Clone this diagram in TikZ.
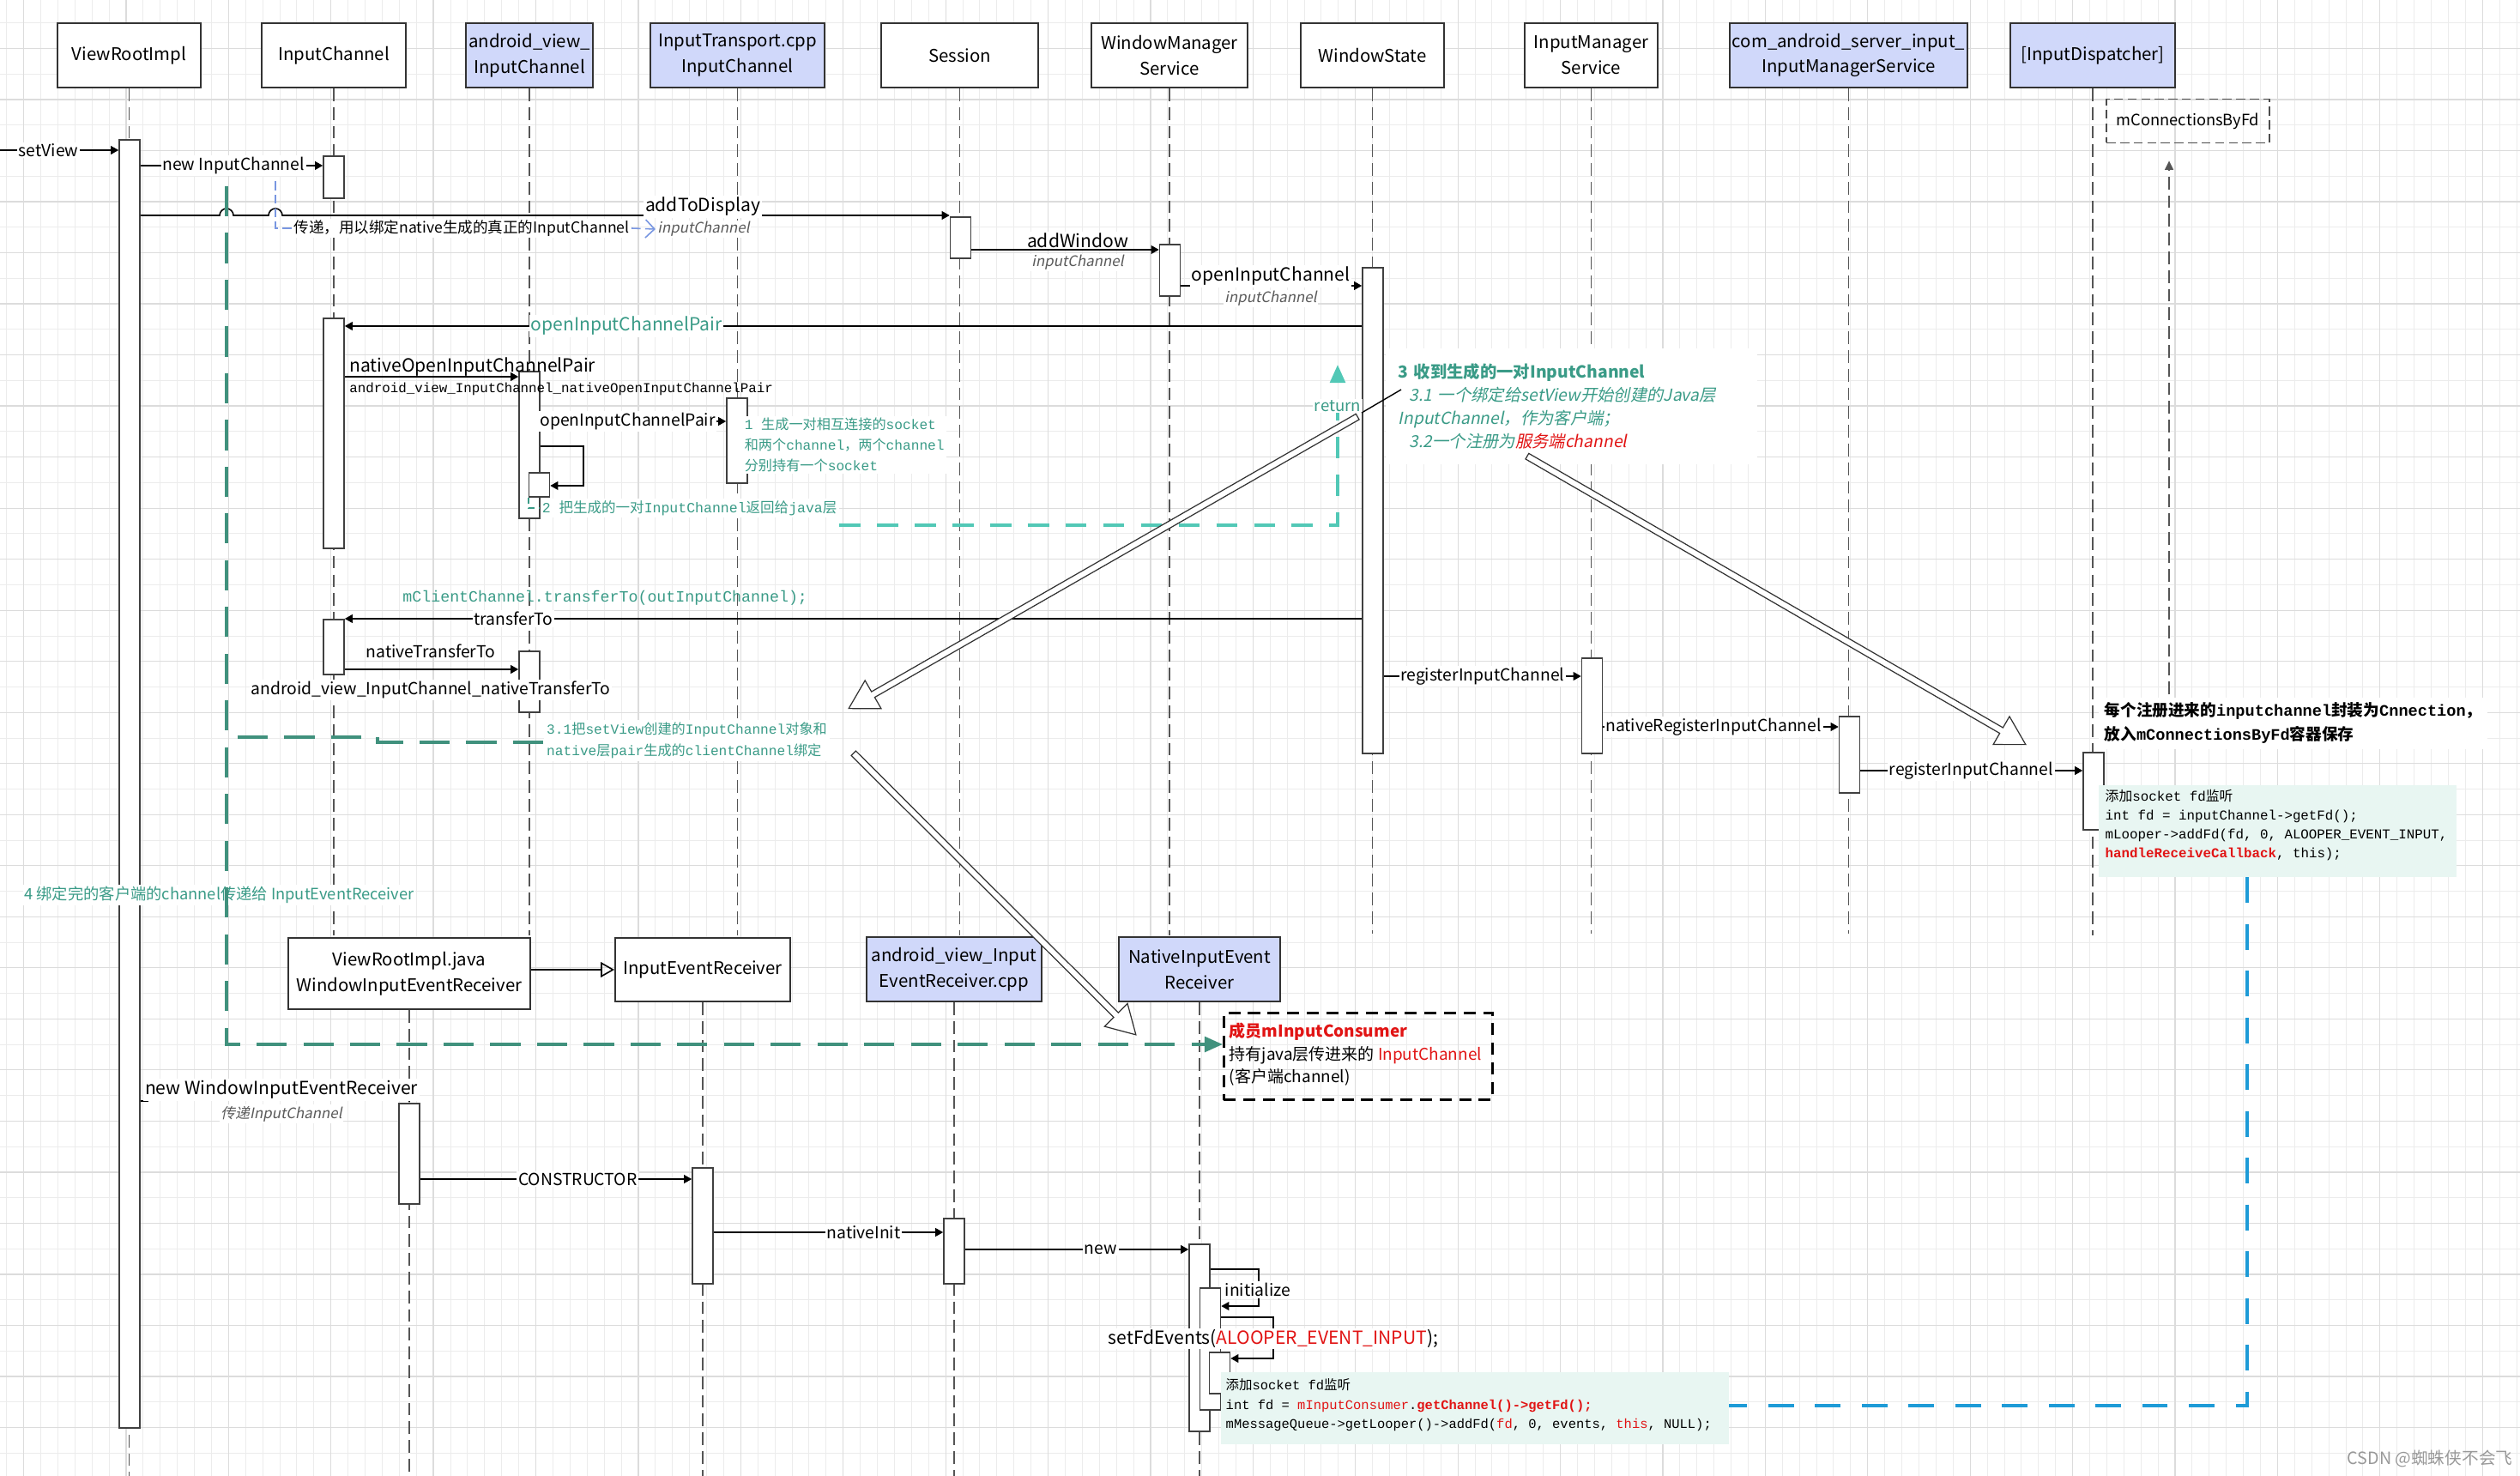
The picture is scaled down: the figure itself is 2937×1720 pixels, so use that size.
\documentclass[tikz,border=0pt]{standalone}
\usepackage{fontspec}
\setmainfont{Noto Sans CJK SC}
\setmonofont{Liberation Mono}
\newfontfamily\cjk{Noto Sans CJK SC}
\newfontfamily\itcjk{Noto Sans CJK SC}[FakeSlant=0.2]
\usetikzlibrary{arrows.meta,shapes.arrows,calc}

\newcommand\zh[1]{{\cjk #1}}
\newcommand\headfont{\fontsize{5.8}{8.5}\selectfont}
\newcommand\lblfont{\fontsize{5.5}{6.5}\selectfont}
\newcommand\biglblfont{\fontsize{6}{7}\selectfont}
\newcommand\argfont{\itcjk\fontsize{4.8}{5.8}\selectfont}

\definecolor{headFill}{RGB}{208,216,250}
\definecolor{lineGray}{RGB}{85,85,85}
\definecolor{gridMinorC}{RGB}{236,236,236}
\definecolor{gridMajorC}{RGB}{220,220,220}
\definecolor{tealTxt}{RGB}{58,155,135}
\definecolor{tealDark}{RGB}{64,145,125}
\definecolor{turq}{RGB}{82,200,182}
\definecolor{linkBlue}{RGB}{30,155,215}
\definecolor{noteBlue}{RGB}{120,150,225}
\definecolor{codeFill}{RGB}{232,246,242}
\definecolor{codeRed}{RGB}{225,20,20}
\definecolor{italGray}{RGB}{90,90,90}

\begin{document}
\begin{tikzpicture}
[x=0.1mm,y=-0.1mm,
  gridMinor/.style={color=gridMinorC,line width=0.25pt},
  gridMajor/.style={color=gridMajorC,line width=0.35pt},
  headBox/.style={draw=black!80,line width=0.55pt,fill=white,align=center,inner sep=0pt,font=\headfont},
  headBlue/.style={headBox,fill=headFill},
  lifeLine/.style={color=lineGray,line width=0.45pt,dash pattern=on 4.2pt off 2pt},
  actBar/.style={draw=black!75,line width=0.45pt,fill=white,minimum width=2.4mm,inner sep=0pt},
  msgArrow/.style={-{Triangle[length=2.6pt,width=2.8pt]},line width=0.45pt},
  msgLabel/.style={fill=white,inner sep=0.5pt,font=\lblfont},
  bigLabel/.style={msgLabel,font=\biglblfont},
  argLabel/.style={fill=white,inner sep=0.5pt,text=italGray,font=\argfont},
  genArrow/.style={-{Triangle[open,length=4.5pt,width=5pt]},line width=0.45pt},
  tealLoop/.style={color=tealDark,line width=1.1pt,dash pattern=on 10pt off 5.5pt},
  returnLine/.style={color=turq,line width=1.1pt,dash pattern=on 7pt off 5.5pt},
  blueLink/.style={color=linkBlue,line width=1.1pt,dash pattern=on 8.5pt off 7pt},
  noteLink/.style={color=noteBlue,line width=0.45pt,dash pattern=on 3pt off 1.5pt},
  tealLink/.style={color=tealTxt,line width=0.45pt,dash pattern=on 2pt off 1.5pt},
  hollowArrow/.style={single arrow,draw=black!80,fill=white,line width=0.35pt,inner sep=0.9pt,
    single arrow head extend=4.3pt,single arrow tip angle=60},
  codeBox/.style={fill=codeFill,inner xsep=0.8mm,inner ysep=0.6mm,align=left}]
\useasboundingbox (0,0) rectangle (2937,1720);
\fill[white] (0,0) rectangle (2937,1720);

%% background grid
\foreach \gx in {7.6,27.5,...,2937} {\draw[gridMinor] (\gx,0) -- (\gx,1720);}
\foreach \gy in {26.7,56.46,...,1720} {\draw[gridMinor] (0,\gy) -- (2937,\gy);}
\foreach \gx in {27.5,146.9,...,2937} {\draw[gridMajor] (\gx,0) -- (\gx,1720);}
\foreach \gy in {56.46,115.98,...,1720} {\draw[gridMajor] (0,\gy) -- (2937,\gy);}

%% heads of the lifelines
\foreach \nodename/\x/\y/\w/\h/\kind/\txt in {
  vri/150.5/64.5/167/75/headBox/ViewRootImpl,
  ich/389/64.5/168/75/headBox/InputChannel,
  avic/617/64.5/148/75/headBlue/android\_view\_\\InputChannel,
  itic/859.5/64.5/203/75/headBlue/InputTransport.cpp\\InputChannel,
  sess/1118.5/64.5/183/75/headBox/Session,
  wms/1363/64.5/182/75/headBox/WindowManager\\Service,
  wst/1599.5/64.5/167/75/headBox/WindowState,
  ims/1854.5/64.5/155/75/headBox/InputManager\\Service,
  cims/2154.5/64.5/277/75/headBlue/com\_android\_server\_input\_\\InputManagerService,
  idisp/2439/64.5/192/75/headBlue/{[InputDispatcher]},
  vrij/477/1134.5/282/83/headBox/ViewRootImpl.java\\WindowInputEventReceiver,
  ier/819/1130/204/74/headBox/InputEventReceiver,
  avier/1112/1129.5/204/75/headBlue/android\_view\_Input\\EventReceiver.cpp,
  nier/1398/1129.5/188/75/headBlue/NativeInputEvent\\Receiver}
{
  \node (\nodename) at (\x,\y) [\kind,minimum width=\w*0.1mm,minimum height=\h*0.1mm] {\txt};
}

%% lifelines
\foreach \nodename/\yend in {vri/1720, ich/1090, avic/1090, itic/1090, sess/1090, wms/1090,
  wst/1088, ims/1088, cims/1088, idisp/1090, vrij/1720, ier/1720, avier/1720, nier/1720}
{
  \draw[lifeLine] (\nodename.south) -- (\nodename.south |- 0,\yend);
}
\draw[genArrow] (vrij.east |- 0,1130) -- (ier.west |- 0,1130);

%% activation bars
\foreach \nodename/\x/\ytop/\ybot in {
  barVri/151/162/1663, barIch1/389/181/230, barSess/1119.5/252/300, barWms/1363.5/284/344,
  barWst/1600/311/877, barIch2/389/370/638, barAvic1/617/432/603, barAvic1b/628.5/550/578,
  barItic/859/463/562, barIch3/389/721/785, barAvic2/617/758/829, barIms/1855.5/766/877,
  barCims/2155.5/834/923, barIdisp/2440/876/966, barVrij/477/1285/1402, barIer/819/1360/1495,
  barAvier/1112/1419/1495, barNier/1398/1449/1667, barNier2/1410.5/1500/1642, barNier3/1421.5/1575/1623}
{
  \node (\nodename) at (\x,\ytop) [actBar,anchor=north,minimum height=(\ybot-\ytop)*0.1mm] {};
}

%% messages
\coordinate (viewIn) at (0,175);
\draw[msgArrow] (viewIn) -- node[msgLabel,pos=0.41] (msgSetView) {setView} (barVri.west |- viewIn);
\foreach \from/\to/\y/\where/\txt in {
  barVri.east/barIch1.west/193/0.51/new InputChannel,
  barAvic1.east/barItic.west/491/0.47/openInputChannelPair,
  barWst.west/barIch3.east/721/0.834/transferTo,
  barWst.east/barIms.west/788/0.5/registerInputChannel,
  barIms.east/barCims.west/847/0.469/nativeRegisterInputChannel,
  barCims.east/barIdisp.west/898/0.498/registerInputChannel,
  barVrij.east/barIer.west/1374/0.58/CONSTRUCTOR,
  barIer.east/barAvier.west/1436/0.654/nativeInit,
  barAvier.east/barNier.west/1456/0.607/new}
{
  \draw[msgArrow] (\from |- 0,\y) -- node[msgLabel,pos=\where] (msg\y) {\txt} (\to |- 0,\y);
}
\foreach \from/\to/\y/\xl/\txt in {barSess.east/barWms.west/291/1256/addWindow,
  barWms.east/barWst.west/333/1481/openInputChannel}
{
  \draw[msgArrow] (\from |- 0,\y) -- (\to |- 0,\y);
  \node (lbl\txt) at (\xl,\y-11) [bigLabel] {\txt};
  \node (arg\txt) at (\xl,\y+15) [argLabel] {inputChannel};
}
\draw[msgArrow] (barVri.east |- 0,251) -- (256,251) arc(180:360:8) -- (313,251) arc(180:360:8)
  -- (barSess.west |- 0,251);
\node (lblAdd) at (819,241) [bigLabel] {addToDisplay};
\node (argAdd) at (820,267) [argLabel] {inputChannel};
\draw[msgArrow] (barWst.west |- 0,380) -- node[bigLabel,pos=0.723,text=tealTxt] (msgPair) {openInputChannelPair}
  (barIch2.east |- 0,380);
\draw[msgArrow] (barIch2.east |- 0,439) -- (barAvic1.west |- 0,439);
\node (lblNative) at (405,441) [anchor=south west,inner sep=0.5pt,font=\biglblfont] {nativeOpenInputChannelPair};
\node (fnNative) at (405,453) [anchor=west,inner sep=0.5pt,font=\ttfamily\fontsize{4.5}{5}\selectfont]
  {android\_view\_InputChannel\_nativeOpenInputChannelPair};
\draw[msgArrow] (barAvic1.east |- 0,520) -- (680,520) -- (680,566) -- (barAvic1b.east |- 0,566);
\draw[msgArrow] (barIch3.east |- 0,780) -- (barAvic2.west |- 0,780);
\node (lblXfer) at (502,759) [msgLabel,fill=none] {nativeTransferTo};
\node (fnXfer) at (502,804) [msgLabel] {android\_view\_InputChannel\_nativeTransferTo};
\node (noteXfer) at (457,697) [anchor=west,text=tealTxt,font=\ttfamily\fontsize{5.2}{6}\selectfont]
  {mClientChannel.transferTo(outInputChannel);};
\draw[msgArrow] (barVri.east |- 0,1283) -| (172,1265) -| (barVrij.north);
\node (lblNewWin) at (328,1270) [bigLabel] {new WindowInputEventReceiver};
\node (argNewWin) at (328,1298) [argLabel] {传递InputChannel};
\draw[msgArrow] (barNier.east |- 0,1479) -- (1467,1479) -- (1467,1522) -- (barNier2.east |- 0,1522);
\node (lblInit) at (1466,1503) [msgLabel] {initialize};
\draw[msgArrow] (barNier2.east |- 0,1535) -- (1484,1535) -- (1484,1583) -- (barNier3.east |- 0,1583);
\node (lblSetFd) at (1484,1560) [bigLabel] {setFdEvents(\textcolor{codeRed}{ALOOPER\_EVENT\_INPUT});};

%% notes
\node (noteTrans) at (340,266) [anchor=west,fill=white,inner sep=0.5pt,font=\fontsize{5}{6}\selectfont]
  {传递，用以绑定native生成的真正的InputChannel};
\coordinate (transTop) at (321,211);
\draw[noteLink] (transTop) |- (noteTrans.west);
\draw[noteLink,-{Straight Barb[length=3pt,width=6pt]}] (noteTrans.east) -- (argAdd.west);
\node (note1) at (865,484) [anchor=north west,fill=white,inner sep=0.6pt,align=left,text=tealTxt,
  font=\ttfamily\fontsize{4.6}{6.8}\selectfont]
  {1 \zh{生成一对相互连接的}socket\\\zh{和两个}channel\zh{，两个}channel\\\zh{分别持有一个}socket};
\node (note2) at (629,592) [anchor=west,fill=white,inner sep=0.6pt,text=tealTxt,font=\ttfamily\fontsize{4.7}{5.5}\selectfont]
  {2 \zh{把生成的一对}InputChannel\zh{返回给}java\zh{层}};
\draw[tealLink] (barAvic1b.south west) |- (note2.west);
\coordinate (retTip) at (1559,425);
\draw[returnLine,-{Triangle[length=6pt,width=5pt]}] (note2.east |- 0,612) -| (retTip);
\node (lblReturn) at (1559,473) [fill=white,inner sep=0.5pt,text=tealTxt,font=\fontsize{5.3}{6}\selectfont] {return};
\node (note3) at (1614,405) [anchor=north west,fill=white,inner xsep=1.5mm,inner ysep=0.8mm,text width=40.3mm,
  minimum height=13.5mm,align=left,text=tealTxt,font=\fontsize{5.5}{7.7}\selectfont]
  {{\bfseries 3 收到生成的一对InputChannel}\\
   {\itcjk\ \ 3.1 一个绑定给setView开始创建的Java层}\\
   {\itcjk InputChannel，作为客户端；}\\
   {\itcjk\ \ 3.2一个注册为\textcolor{codeRed}{服务端channel}}};
\node (note31) at (633,863) [anchor=west,fill=white,inner sep=1pt,align=left,text=tealTxt,
  font=\ttfamily\fontsize{4.6}{7.1}\selectfont]
  {3.1\zh{把}setView\zh{创建的}InputChannel\zh{对象和}\\native\zh{层}pair\zh{生成的}clientChannel\zh{绑定}};
\draw[tealLoop] (note31.west |- 0,865) -- (440,865) -- (440,859) -- (264,859);
\node (note4) at (26,1043) [anchor=west,fill=white,inner sep=0.5pt,text=tealTxt,font=\fontsize{5.2}{6}\selectfont]
  {4 绑定完的客户端的channel传递给 InputEventReceiver};
\node (noteCons) at (1425,1179) [anchor=north west,draw,line width=0.8pt,dash pattern=on 4pt off 2.5pt,
  minimum width=31.3mm,minimum height=9mm,inner xsep=0.6mm,align=left,font=\fontsize{5.4}{7.5}\selectfont]
  {\parbox[c][7.8mm][t]{30mm}{{\bfseries\color{codeRed}成员mInputConsumer}\\
   持有java层传进来的 \textcolor{codeRed}{InputChannel}\\
   \ (客户端channel)}};
\coordinate (loopTop) at (264,217);
\draw[tealLoop,-{Triangle[length=6pt,width=5pt]}] (loopTop) -- (264,1217) -- (noteCons.west |- 0,1217);
\node (noteDisp) at (2445,812) [anchor=north west,fill=white,align=left,inner xsep=0.7mm,inner ysep=0.6mm,
  font=\bfseries\fontsize{5.3}{8}\selectfont]
  {每个注册进来的{\ttfamily inputchannel}封装为{\ttfamily Cnnection}，\\放入{\ttfamily mConnectionsByFd}容器保存};
\node (codeA) at (2445,914) [codeBox,anchor=north west,font=\ttfamily\fontsize{4.5}{6.2}\selectfont]
  {\parbox[c][9.5mm][t]{40.1mm}{\zh{添加}socket fd\zh{监听}\\
   int fd = inputChannel->getFd();\\
   mLooper->addFd(fd, 0, ALOOPER\_EVENT\_INPUT,\\
   {\bfseries\color{codeRed}handleReceiveCallback}, this);}};
\node (codeB) at (1422,1598) [codeBox,anchor=north west,inner xsep=0.6mm,inner ysep=0.8mm,
  font=\ttfamily\fontsize{4.4}{6.4}\selectfont]
  {\parbox[c][6.8mm][t]{58mm}{\zh{添加}socket fd\zh{监听}\\
   int fd = \textcolor{codeRed}{mInputConsumer}.{\bfseries\color{codeRed}getChannel()->getFd();}\\
   mMessageQueue->getLooper()->addFd(\textcolor{codeRed}{fd}, 0, events, \textcolor{codeRed}{this}, NULL);}};
\draw[blueLink] (codeA.south -| 2619,0) -- (2619,1638) -- (codeB.east |- 0,1638);
\node (mconn) at (2550,141) [draw=black!70,line width=0.45pt,dash pattern=on 3pt off 1.5pt,minimum width=18.8mm,
  minimum height=5.1mm,font=\fontsize{5.2}{6}\selectfont] {mConnectionsByFd};
\coordinate (connTail) at (2528,809);
\draw[lifeLine,-{Triangle[length=3pt,width=2.8pt]},shorten >=5.7pt] (connTail) -- (mconn.south -| connTail);

%% hollow arrows
\coordinate (wstHook) at (1633,454);
\draw[line width=0.4pt] (wstHook) -- (1587,481);
\foreach \k/\xa/\ya/\xb/\yb in {1/1585/484/992/824, 2/1777/530/2358/866, 3/992/875/1322/1204}
{
  \coordinate (tail\k) at (\xa,\ya);
  \coordinate (tip\k) at (\xb,\yb);
  \path let \p1=($(tip\k)-(tail\k)$), \n1={veclen(\x1,\y1)}, \n2={atan2(\y1,\x1)} in
    node (hollow\k) at ($(tail\k)!0.5!(tip\k)$) [hollowArrow,minimum height=\n1,rotate=\n2] {};
}
\node (mark) at (2832,1700) [text=black!40,font=\fontsize{5.6}{6}\selectfont] {CSDN @蜘蛛侠不会飞};
\end{tikzpicture}
\end{document}
